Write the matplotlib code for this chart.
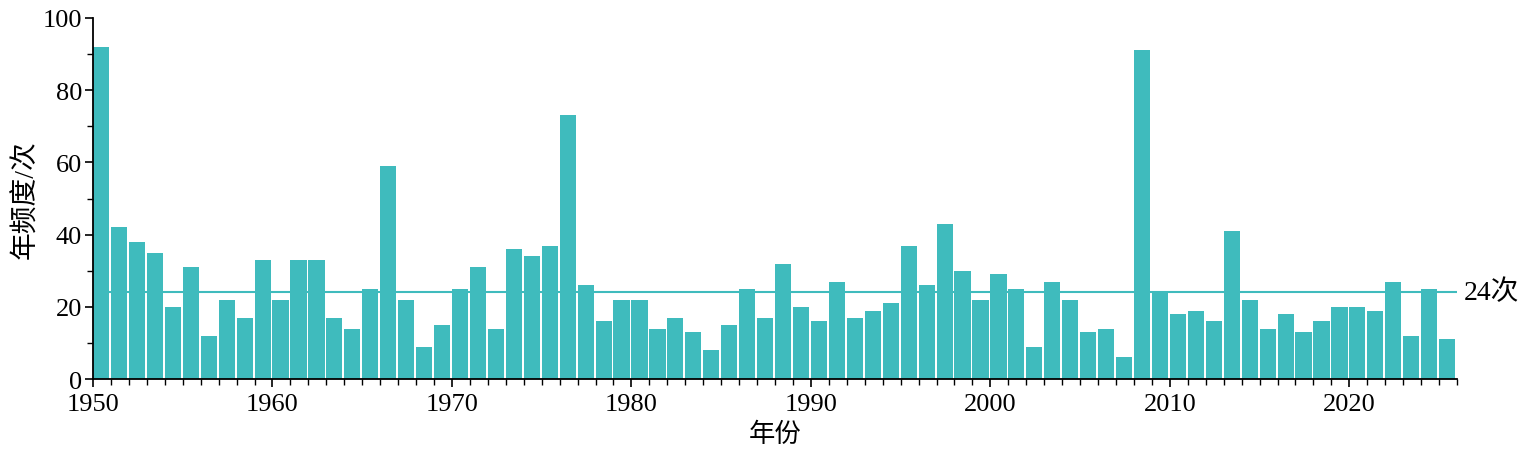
import numpy as np
import matplotlib
matplotlib.use("Agg")
import matplotlib.pyplot as plt
from matplotlib.ticker import MultipleLocator

plt.rcParams['font.family'] = ['Liberation Serif', 'Noto Sans CJK SC', 'DejaVu Sans']

# annual frequency, 1950-2025
years = np.arange(1950, 2026)
counts = [92, 42, 38, 35, 20, 31, 12, 22, 17, 33,
          22, 33, 33, 17, 14, 25, 59, 22, 9, 15,
          25, 31, 14, 36, 34, 37, 73, 26, 16, 22,
          22, 14, 17, 13, 8, 15, 25, 17, 32, 20,
          16, 27, 17, 19, 21, 37, 26, 43, 30, 22,
          29, 25, 9, 27, 22, 13, 14, 6, 91, 24,
          18, 19, 16, 41, 22, 14, 18, 13, 16, 20,
          20, 19, 27, 12, 25, 11]
mean_line = 24
mean_label = "24次"

bar_color = "#3fbbbd"

fig = plt.figure(figsize=(15.35, 4.52), dpi=100)
ax = fig.add_axes([0.0606, 0.159, 0.8886, 0.799])

ax.bar(years, counts, width=0.9, align="edge", color=bar_color, edgecolor="none")
ax.axhline(mean_line, color=bar_color, linewidth=1.5)
ax.text(2026.4, mean_line, mean_label, fontsize=20, va="center", ha="left")

ax.set_xlim(1950, 2026)
ax.set_ylim(0, 100)
ax.xaxis.set_major_locator(MultipleLocator(10))
ax.xaxis.set_minor_locator(MultipleLocator(1))
ax.yaxis.set_major_locator(MultipleLocator(20))
ax.yaxis.set_minor_locator(MultipleLocator(10))
ax.tick_params(axis="both", which="major", length=6, width=1.2, labelsize=19, direction="out")
ax.tick_params(axis="x", which="major", pad=4)
ax.tick_params(axis="y", which="major", pad=2)
ax.tick_params(axis="both", which="minor", length=4, width=1.0, direction="out")

for side in ["top", "right"]:
    ax.spines[side].set_visible(False)
for side in ["left", "bottom"]:
    ax.spines[side].set_linewidth(1.3)

ax.set_xlabel("年份", fontsize=19, labelpad=5)
ax.set_ylabel("年频度/次", fontsize=20, labelpad=2)

fig.savefig("out.png", dpi=100)
